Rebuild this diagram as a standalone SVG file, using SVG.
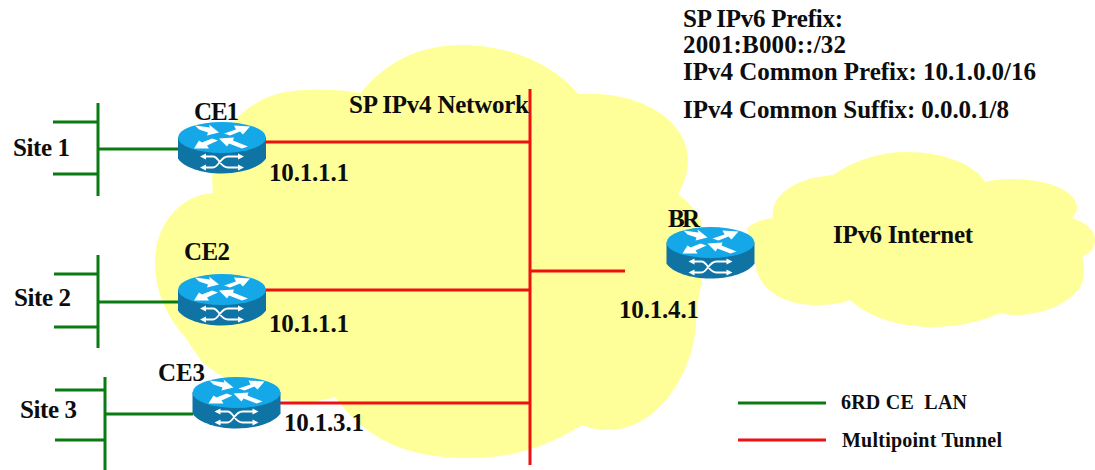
<svg xmlns="http://www.w3.org/2000/svg" width="1095" height="470" viewBox="0 0 1095 470">
<style>
.cloud{fill:#ffff99;stroke:none}
.lan{stroke:#0a7a12;stroke-width:3;fill:none}
.tun{stroke:#ee1111;stroke-width:3;fill:none}
text{font-family:"Liberation Serif","Times New Roman",serif;font-weight:bold;fill:#0d0d0d;font-size:25px}
.leg{font-size:20px}
.ra{fill:#fff;stroke:none}
.rl{stroke:#fff;stroke-width:1.8;fill:none}
</style>
<defs>
<g id="router">
<path d="M-44,0 V21 C-38,30 -20,36 0,36 C20,36 38,30 44,21 V0 Z" fill="#0f74a4"/>
<ellipse cx="0" cy="0" rx="44" ry="15.5" fill="#14a8e8"/>
<path class="ra" d="M-27,-12 L-12,-10 L-13,-13 L-3,-5 L-15,-2 L-14,-5 L-23,-8 Z"/>
<path class="ra" d="M28,-11 L12,-12 L14,-8 L2,-4 L8,-2 L18,-6 L21,-3 Z"/>
<path class="ra" d="M-28,11 L-13,11 L-15,8 L-4,3 L-10,1 L-20,5 L-23,3 Z"/>
<path class="ra" d="M-3,1 L12,0 L11,3 L26,9 L20,11 L7,6 L5,9 Z"/>
<path class="rl" d="M-18,19 H-9 C-3,19 -2,30 6,30 H18 M-18,30 H-9 C-3,30 -2,19 6,19 H18"/>
<path class="ra" d="M-22,19 L-16,16 V22 Z M-22,30 L-16,27 V33 Z M22,19 L16,16 V22 Z M22,30 L16,27 V33 Z"/>
</g>
</defs>
<g id="cloud-ipv4">
<path class="cloud" d="M213,193 C207,150 235,92 304,90 C325,89 345,90 361,93 C385,62 420,45 461,45 C510,45 555,65 578,94 C640,90 688,120 688,160 C688,172 684,184 678,194 C690,203 698,212 702,224 L702,283 C699,290 697,310 696,323 C694,370 660,430 607,430 C598,430 590,428 582,425 C545,448 510,458 470,458 C420,458 372,448 335,397 C300,408 250,400 203,363 C195,352 190,345 186,338 C165,315 155,290 155,262 C155,225 180,195 213,193 Z"/>
</g>
<g id="cloud-ipv6">
<path class="cloud" d="M747,228 C755,222 763,219 773,218 C770,195 795,178 833,175 C855,160 880,152 907,152 C945,152 975,165 985,182 C1000,178 1010,179 1017,179 C1050,180 1077,192 1077,207 C1077,211 1075,215 1072,218 C1085,222 1095,230 1095,240 C1095,248 1090,253 1082,257 C1085,265 1084,272 1083,280 C1078,300 1045,315 1017,315 C1010,315 1005,314 1000,313 C980,322 955,327 933,327 C900,327 870,318 850,300 C840,304 828,305 817,305 C790,305 765,295 757,272 Z"/>
</g>
<g id="connectors">
<path class="lan" d="M98,103 V196 M53,122 H98 M53,174 H98 M98,149 H178"/>
<path class="lan" d="M98,255 V348 M54,274 H98 M54,327 H98 M98,302 H178"/>
<path class="lan" d="M105,377 V470 M55,390 H105 M55,440 H105 M105,414 H193"/>
<path class="tun" d="M530,89 V465 M265,142 H530 M265,290 H530 M280,403 H530 M530,271 H625"/>
</g>
<g id="CE1"><use href="#router" x="222" y="137.5"/><text x="194" y="120" textLength="45">CE1</text></g>
<g id="CE2"><use href="#router" x="222" y="289.5"/><text x="184" y="260" textLength="46">CE2</text></g>
<g id="CE3"><use href="#router" x="236.5" y="392.5"/><text x="158" y="381" textLength="47">CE3</text></g>
<g id="BR"><use href="#router" x="710.5" y="242.5"/><text x="668" y="227" textLength="32">BR</text></g>
<g id="labels">
<text x="13" y="156" textLength="57">Site 1</text>
<text x="14" y="306" textLength="57">Site 2</text>
<text x="20" y="418" textLength="57">Site 3</text>
<text x="269" y="181" textLength="80">10.1.1.1</text>
<text x="269" y="332" textLength="80">10.1.1.1</text>
<text x="284" y="431" textLength="80">10.1.3.1</text>
<text x="619" y="318" textLength="80">10.1.4.1</text>
<text x="349" y="113" textLength="180">SP IPv4 Network</text>
<text x="833" y="243" textLength="140">IPv6 Internet</text>
<text x="683" y="27" textLength="160">SP IPv6 Prefix:</text>
<text x="683" y="53" textLength="163">2001:B000::/32</text>
<text x="683" y="80" textLength="353">IPv4 Common Prefix: 10.1.0.0/16</text>
<text x="683" y="118" textLength="326">IPv4 Common Suffix: 0.0.0.1/8</text>
</g>
<g id="legend">
<line class="lan" x1="738" y1="403" x2="826" y2="403"/>
<line class="tun" x1="738" y1="440" x2="826" y2="440"/>
<text class="leg" x="841" y="409" textLength="126" xml:space="preserve">6RD CE  LAN</text>
<text class="leg" x="842" y="447" textLength="160">Multipoint Tunnel</text>
</g>
</svg>
